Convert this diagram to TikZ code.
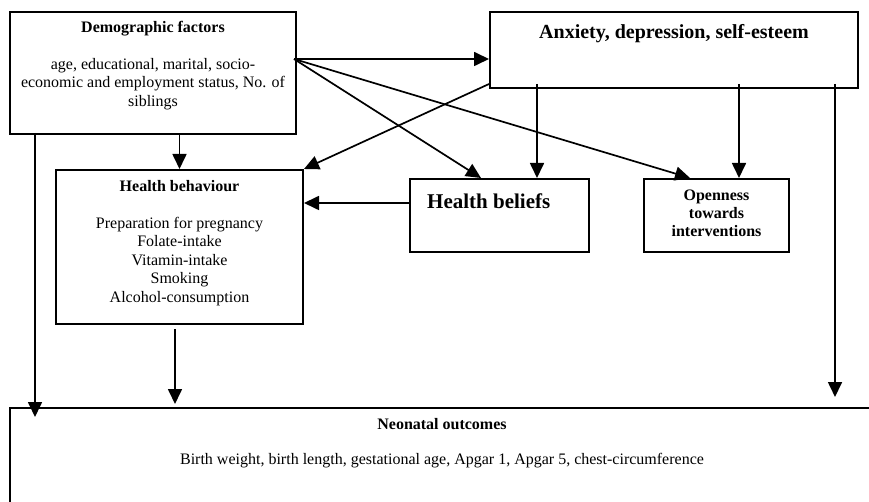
\documentclass[tikz,border=0pt]{standalone}
\usepackage{fontspec}
\setmainfont{Liberation Serif}
\usetikzlibrary{arrows.meta,positioning,calc}

\begin{document}
\begin{tikzpicture}[
    x=1pt, y=-1pt,
    >={Triangle[length=15pt,width=14pt]},
    box/.style={draw, line width=2pt, inner sep=0pt},
    txt/.style={inner sep=0pt, align=center, font=\fontsize{16}{18.5}\selectfont},
    head/.style={txt, font=\fontsize{16}{18}\selectfont\bfseries},
    bighead/.style={inner sep=0pt, font=\fontsize{20}{24}\selectfont\bfseries},
    link/.style={->, line width=1.7pt}
]
\useasboundingbox (0,0) rectangle (869,502);
\clip (0,0) rectangle (869,502);
\node[box, minimum width=286pt, minimum height=122pt] (demo) at (153,73) {};
\node[txt, below=10pt of demo.north] (demotxt) {\textbf{Demographic factors}\\[18.5pt] age, educational, marital, socio-\\economic and employment status, No. of\\siblings};
\node[box, minimum width=368pt, minimum height=76pt] (anx) at (674,50) {};
\node[bighead, below=13pt of anx.north] (anxtxt) {Anxiety, depression, self-esteem};
\node[box, minimum width=247pt, minimum height=154pt] (behav) at (179.5,247) {};
\node[txt, below=11pt of behav.north] (behavtxt) {\textbf{Health behaviour}\\[18.5pt] Preparation for pregnancy\\Folate-intake\\Vitamin-intake\\Smoking\\Alcohol-consumption};
\node[box, minimum width=179pt, minimum height=73pt] (beliefs) at (499.5,215.5) {};
\node[inner sep=0pt, font=\fontsize{21}{24}\selectfont\bfseries, below right=15.5pt and 18pt of beliefs.north west] (beliefstxt) {Health beliefs};
\node[box, minimum width=145pt, minimum height=73pt] (open) at (716.5,215.5) {};
\node[head, below=11.5pt of open.north] (opentxt) {Openness\\towards\\interventions};
\node[box, minimum width=864pt, minimum height=112pt] (neo) at (442,464) {};
\node[txt, below=11.5pt of neo.north] (neotxt) {\textbf{Neonatal outcomes}\\[16.5pt] Birth weight, birth length, gestational age, Apgar 1, Apgar 5, chest-circumference};
\coordinate (fan) at ([xshift=-3pt,yshift=-48pt]demo.north east);
\draw[link] (fan) -- (fan -| anx.west);
\draw[link] (fan) -- ([xshift=-18.5pt]beliefs.north);
\draw[link] (fan) -- ([xshift=-26.5pt]open.north);
\draw[link] ([yshift=5pt]anx.south west) -- (behav.north east);
\draw[link] ([xshift=48pt,yshift=5pt]anx.south west) -- ([xshift=48pt]anx.south west |- beliefs.north);
\draw[link] ([xshift=250pt,yshift=5pt]anx.south west) -- ([xshift=250pt]anx.south west |- open.north);
\draw[link] ([xshift=346pt,yshift=5pt]anx.south west) -- ([xshift=346pt,yshift=10pt]anx.south west |- neo.north);
\draw[link] ([xshift=26pt,yshift=2pt]demo.south west) -- ([xshift=26pt,yshift=-10pt]demo.south west |- neo.north);
\draw[link] (behav.north |- demo.south) -- (behav.north);
\draw[link] ([yshift=12.5pt]beliefs.west) -- ([yshift=12.5pt]beliefs.west -| behav.east);
\draw[link] ([xshift=-4.5pt,yshift=-4pt]behav.south) -- ([xshift=-4.5pt,yshift=3pt]behav.south |- neo.north);
\end{tikzpicture}
\end{document}
